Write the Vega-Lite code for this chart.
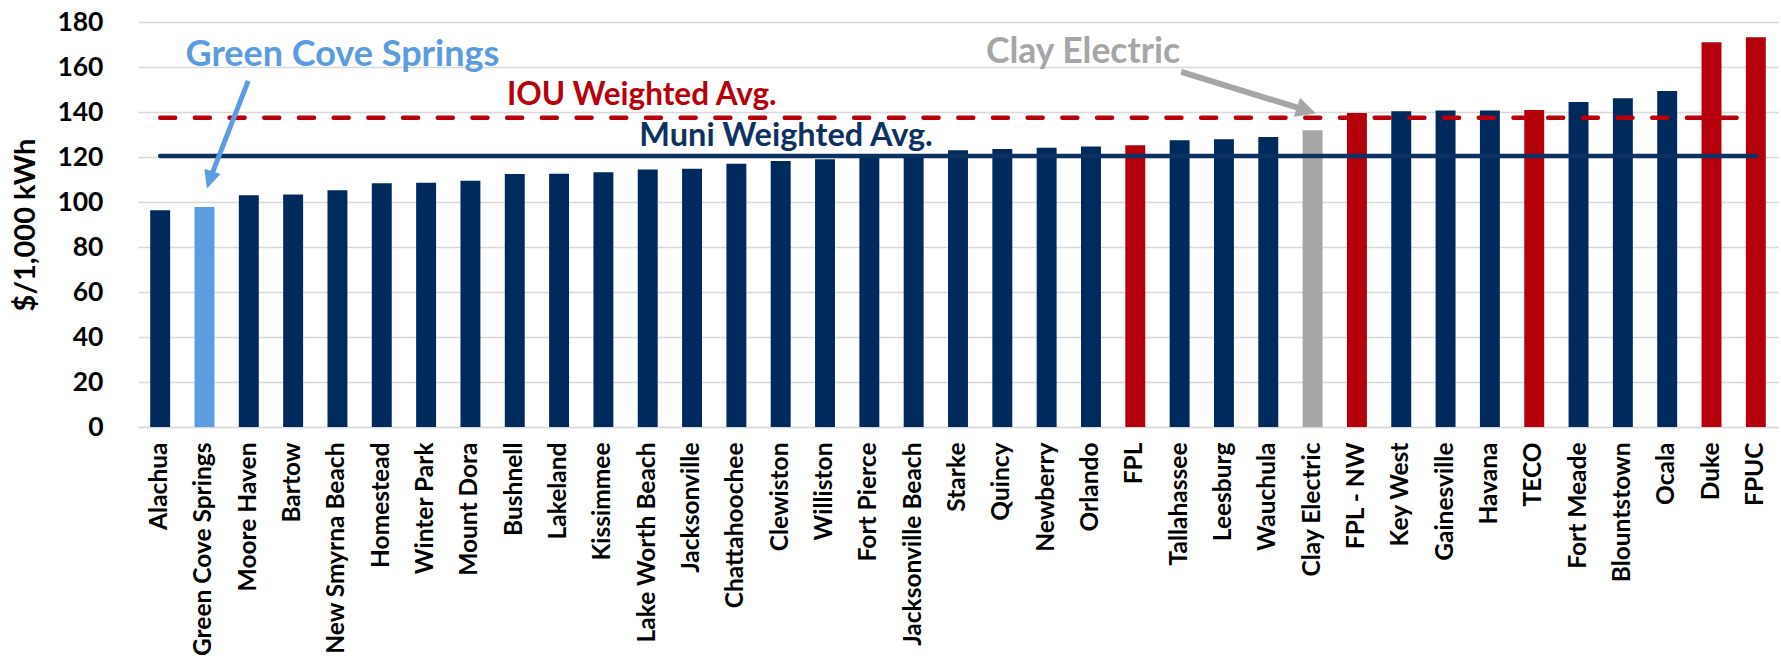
{
  "$schema": "https://vega.github.io/schema/vega-lite/v6.json",
  "width": 1640,
  "height": 405,
  "autosize": {"type": "none"},
  "padding": {"left": 138, "top": 22, "right": 3, "bottom": 232},
  "background": "white",
  "config": {"view": {"stroke": null}, "font": "Lato"},
  "layer": [
    {
      "data": {
        "values": [
          {"utility": "Alachua", "rate": 96.3, "group": "Muni"},
          {"utility": "Green Cove Springs", "rate": 97.8, "group": "Highlight"},
          {"utility": "Moore Haven", "rate": 103.0, "group": "Muni"},
          {"utility": "Bartow", "rate": 103.3, "group": "Muni"},
          {"utility": "New Smyrna Beach", "rate": 105.2, "group": "Muni"},
          {"utility": "Homestead", "rate": 108.3, "group": "Muni"},
          {"utility": "Winter Park", "rate": 108.6, "group": "Muni"},
          {"utility": "Mount Dora", "rate": 109.5, "group": "Muni"},
          {"utility": "Bushnell", "rate": 112.4, "group": "Muni"},
          {"utility": "Lakeland", "rate": 112.6, "group": "Muni"},
          {"utility": "Kissimmee", "rate": 113.2, "group": "Muni"},
          {"utility": "Lake Worth Beach", "rate": 114.4, "group": "Muni"},
          {"utility": "Jacksonville", "rate": 114.8, "group": "Muni"},
          {"utility": "Chattahoochee", "rate": 117.0, "group": "Muni"},
          {"utility": "Clewiston", "rate": 118.2, "group": "Muni"},
          {"utility": "Williston", "rate": 119.0, "group": "Muni"},
          {"utility": "Fort Pierce", "rate": 120.3, "group": "Muni"},
          {"utility": "Jacksonville Beach", "rate": 120.8, "group": "Muni"},
          {"utility": "Starke", "rate": 123.0, "group": "Muni"},
          {"utility": "Quincy", "rate": 123.6, "group": "Muni"},
          {"utility": "Newberry", "rate": 124.1, "group": "Muni"},
          {"utility": "Orlando", "rate": 124.7, "group": "Muni"},
          {"utility": "FPL", "rate": 125.2, "group": "IOU"},
          {"utility": "Tallahassee", "rate": 127.4, "group": "Muni"},
          {"utility": "Leesburg", "rate": 127.9, "group": "Muni"},
          {"utility": "Wauchula", "rate": 128.9, "group": "Muni"},
          {"utility": "Clay Electric", "rate": 131.9, "group": "Coop"},
          {"utility": "FPL - NW", "rate": 139.6, "group": "IOU"},
          {"utility": "Key West", "rate": 140.3, "group": "Muni"},
          {"utility": "Gainesville", "rate": 140.7, "group": "Muni"},
          {"utility": "Havana", "rate": 140.7, "group": "Muni"},
          {"utility": "TECO", "rate": 140.9, "group": "IOU"},
          {"utility": "Fort Meade", "rate": 144.4, "group": "Muni"},
          {"utility": "Blountstown", "rate": 146.1, "group": "Muni"},
          {"utility": "Ocala", "rate": 149.3, "group": "Muni"},
          {"utility": "Duke", "rate": 171.0, "group": "IOU"},
          {"utility": "FPUC", "rate": 173.2, "group": "IOU"}
        ]
      },
      "mark": {"type": "bar"},
      "encoding": {
        "x": {
          "field": "utility",
          "type": "nominal",
          "sort": null,
          "scale": {
            "domain": ["Alachua", "Green Cove Springs", "Moore Haven", "Bartow", "New Smyrna Beach", "Homestead", "Winter Park", "Mount Dora", "Bushnell", "Lakeland", "Kissimmee", "Lake Worth Beach", "Jacksonville", "Chattahoochee", "Clewiston", "Williston", "Fort Pierce", "Jacksonville Beach", "Starke", "Quincy", "Newberry", "Orlando", "FPL", "Tallahassee", "Leesburg", "Wauchula", "Clay Electric", "FPL - NW", "Key West", "Gainesville", "Havana", "TECO", "Fort Meade", "Blountstown", "Ocala", "Duke", "FPUC"],
            "paddingInner": 0.55,
            "paddingOuter": 0.275
          },
          "axis": {
            "title": null,
            "labelAngle": -90,
            "labelFont": "Lato",
            "labelFontWeight": "bold",
            "labelFontSize": 24.5,
            "labelColor": "#000000",
            "labelPadding": 15,
            "labelLimit": 400,
            "ticks": false,
            "domain": true,
            "domainColor": "#D9D9D9",
            "domainWidth": 1.5,
            "grid": false
          }
        },
        "y": {
          "field": "rate",
          "type": "quantitative",
          "scale": {"domain": [0, 180], "nice": false},
          "axis": {
            "title": "$/1,000 kWh",
            "titleFont": "Lato",
            "titleFontSize": 29,
            "titleFontWeight": "bold",
            "titleColor": "#000000",
            "titlePadding": 16,
            "values": [0, 20, 40, 60, 80, 100, 120, 140, 160, 180],
            "labelFont": "Lato",
            "labelFontSize": 26.5,
            "labelFontWeight": "bold",
            "labelColor": "#000000",
            "labelPadding": 35,
            "ticks": false,
            "domain": false,
            "grid": true,
            "gridColor": "#D9D9D9",
            "gridWidth": 1.5
          }
        },
        "color": {
          "field": "group",
          "type": "nominal",
          "scale": {
            "domain": ["Muni", "Highlight", "IOU", "Coop"],
            "range": ["#002A5C", "#5B9BDF", "#B4000B", "#A6A6A6"]
          },
          "legend": null
        }
      }
    },
    {
      "data": {"values": [{}]},
      "mark": {"type": "rule", "color": "#0D3261", "strokeWidth": 4.5, "strokeCap": "round"},
      "encoding": {
        "x": {"datum": "Alachua", "bandPosition": 0.5},
        "x2": {"datum": "FPUC"},
        "y": {"datum": 120.4}
      }
    },
    {
      "data": {"values": [{}]},
      "mark": {"type": "rule", "color": "#B8000A", "strokeWidth": 4.5, "strokeCap": "round", "strokeDash": [15, 19.7]},
      "encoding": {
        "x": {"datum": "Alachua", "bandPosition": 0.5},
        "x2": {"datum": "FPUC", "bandPosition": 0.42},
        "y": {"datum": 137.5}
      }
    },
    {
      "data": {"values": [{}]},
      "mark": {"type": "rule", "color": "#5B9BDF", "strokeWidth": 5},
      "encoding": {
        "x": {"datum": "Green Cove Springs", "bandPosition": 0.76},
        "y": {"datum": 109.8},
        "x2": {"datum": "Moore Haven", "bandPosition": 0.47},
        "y2": {"datum": 153.8}
      }
    },
    {
      "data": {"values": [{}]},
      "mark": {"type": "point", "shape": "M0,1L-0.94,-1L0.94,-1Z", "filled": true, "opacity": 1, "size": 324, "angle": 17.5, "color": "#5B9BDF", "strokeWidth": 0},
      "encoding": {
        "x": {"datum": "Green Cove Springs", "bandPosition": 0.76},
        "y": {"datum": 109.8}
      }
    },
    {
      "data": {"values": [{}]},
      "mark": {"type": "rule", "color": "#A6A6A6", "strokeWidth": 6},
      "encoding": {
        "x": {"datum": "Clay Electric", "bandPosition": 0.19},
        "y": {"datum": 140.7},
        "x2": {"datum": "Tallahassee", "bandPosition": 0.58},
        "y2": {"datum": 157.8}
      }
    },
    {
      "data": {"values": [{}]},
      "mark": {"type": "point", "shape": "M0,1L-1,-1L1,-1Z", "filled": true, "opacity": 1, "size": 400, "angle": 288.4, "color": "#A6A6A6", "strokeWidth": 0},
      "encoding": {
        "x": {"datum": "Clay Electric", "bandPosition": 0.19},
        "y": {"datum": 140.7}
      }
    },
    {
      "data": {"values": [{}]},
      "mark": {"type": "text", "font": "Lato", "fontWeight": "bold", "fontSize": 36, "color": "#5B9BDF", "align": "center", "baseline": "alphabetic"},
      "encoding": {
        "x": {"datum": "New Smyrna Beach", "bandPosition": 0.75},
        "y": {"datum": 160.3},
        "text": {"value": "Green Cove Springs"}
      }
    },
    {
      "data": {"values": [{}]},
      "mark": {"type": "text", "font": "Lato", "fontWeight": "bold", "fontSize": 35.5, "color": "#A6A6A6", "align": "center", "baseline": "alphabetic"},
      "encoding": {
        "x": {"datum": "Orlando", "bandPosition": 0.1},
        "y": {"datum": 162},
        "text": {"value": "Clay Electric"}
      }
    },
    {
      "data": {"values": [{}]},
      "mark": {"type": "text", "font": "Lato", "fontWeight": "bold", "fontSize": 31.5, "color": "#B8000A", "align": "center", "baseline": "alphabetic"},
      "encoding": {
        "x": {"datum": "Lake Worth Beach", "bandPosition": 0.2},
        "y": {"datum": 143},
        "text": {"value": "IOU Weighted Avg."}
      }
    },
    {
      "data": {"values": [{}]},
      "mark": {"type": "text", "font": "Lato", "fontWeight": "bold", "fontSize": 32.5, "color": "#0D3261", "align": "center", "baseline": "alphabetic"},
      "encoding": {
        "x": {"datum": "Clewiston", "bandPosition": 0.77},
        "y": {"datum": 124.8},
        "text": {"value": "Muni Weighted Avg."}
      }
    }
  ]
}
